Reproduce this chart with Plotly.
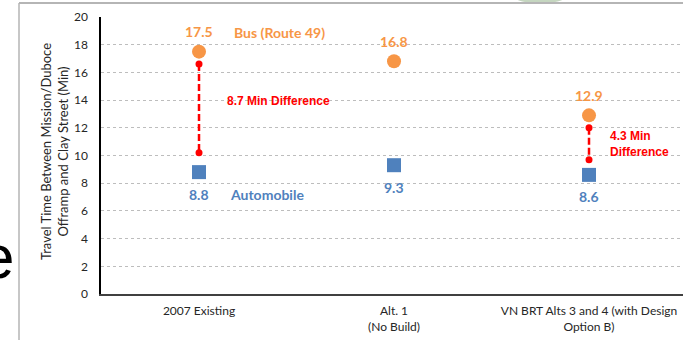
import plotly.graph_objects as go

# Scenarios on the x axis
categories = [0, 1, 2]
category_labels = [
    "2007 Existing",
    "Alt. 1<br>(No Build)",
    "VN BRT Alts 3 and 4 (with Design<br>Option B)",
]

# Travel times (minutes)
bus_times = [17.5, 16.8, 12.9]
auto_times = [8.8, 9.3, 8.6]

# Difference brackets: x position, top and bottom ends
diff_x = [0, 2]
diff_top = [16.6, 12.0]
diff_bottom = [10.2, 9.7]

y_ticks = [0, 2, 4, 6, 8, 10, 12, 14, 16, 18, 20]

ORANGE = "#F79646"
BLUE = "#4F81BD"
RED = "#FF0000"
FONT = "Lato"

W, H = 683, 340
L, R, T, B = 101, 0, 17, 46
PW, PH = W - L - R, H - T - B


def px(xp):
    return (xp - L) / PW


def py(yp):
    return (H - B - yp) / PH


fig = go.Figure()

# red dashed difference brackets with dot ends
for xd, top, bot in zip(diff_x, diff_top, diff_bottom):
    fig.add_trace(go.Scatter(
        x=[xd, xd], y=[top, bot], mode="lines+markers",
        line=dict(color=RED, width=2.5, dash="7px,3px"),
        marker=dict(color=RED, size=7),
        showlegend=False, hoverinfo="skip",
    ))

fig.add_trace(go.Scatter(
    x=categories, y=bus_times, mode="markers", name="Bus (Route 49)",
    marker=dict(color=ORANGE, size=14, symbol="circle"),
    showlegend=False,
))
fig.add_trace(go.Scatter(
    x=categories, y=auto_times, mode="markers", name="Automobile",
    marker=dict(color=BLUE, size=14, symbol="square"),
    showlegend=False,
))

annotations = []
# value labels
for xc, v in zip(categories, bus_times):
    annotations.append(dict(
        x=xc, y=v, xref="x", yref="y", text=f"<b>{v}</b>", showarrow=False,
        yanchor="middle", yshift=20,
        font=dict(family=FONT, size=14, color=ORANGE),
    ))
for xc, v in zip(categories, auto_times):
    annotations.append(dict(
        x=xc, y=v, xref="x", yref="y", text=f"<b>{v}</b>", showarrow=False,
        yanchor="middle", yshift=-22,
        font=dict(family=FONT, size=14, color=BLUE),
    ))

# series names
annotations.append(dict(
    x=px(232), y=py(32), xref="paper", yref="paper", xanchor="left",
    yanchor="middle", text="<b>Bus (Route 49)</b>", showarrow=False,
    font=dict(family=FONT, size=14, color=ORANGE),
))
annotations.append(dict(
    x=px(228), y=py(194), xref="paper", yref="paper", xanchor="left",
    yanchor="middle", text="<b>Automobile</b>", showarrow=False,
    font=dict(family=FONT, size=14, color=BLUE),
))

# difference notes
annotations.append(dict(
    x=px(225), y=py(101), xref="paper", yref="paper", xanchor="left",
    yanchor="middle", text="<b>8.7 Min Difference</b>", showarrow=False,
    font=dict(family="Liberation Sans", size=12, color=RED),
))
annotations.append(dict(
    x=px(608), y=py(144), xref="paper", yref="paper", xanchor="left",
    yanchor="middle", align="left", text="<b>4.3 Min<br>Difference</b>",
    showarrow=False,
    font=dict(family="Liberation Sans", size=12, color=RED),
))

# y axis title (two lines)
annotations.append(dict(
    x=px(54), y=py(152), xref="paper", yref="paper",
    xanchor="center", yanchor="middle",
    text="Travel Time Between Mission/Duboce<br>Offramp and Clay Street (Min)",
    textangle=-90, showarrow=False,
    font=dict(family=FONT, size=13, color="#262626"),
))

# large slide letter at left edge
annotations.append(dict(
    x=px(16), y=py(256), xref="paper", yref="paper", xanchor="right",
    yanchor="middle", text="e", showarrow=False,
    font=dict(family="Liberation Sans", size=62, color="#000000"),
))

shapes = [
    # chart frame
    dict(type="line", xref="paper", yref="paper", x0=px(19), x1=px(700),
         y0=py(3), y1=py(3), line=dict(color="#B5B5B5", width=2)),
    dict(type="line", xref="paper", yref="paper", x0=px(19), x1=px(19),
         y0=py(3), y1=py(345), line=dict(color="#B5B5B5", width=1.5)),
    # faint green blob at the top edge
    dict(type="circle", xref="paper", yref="paper", x0=px(515), x1=px(565),
         y0=py(3), y1=py(-8), fillcolor="rgba(150,180,140,0.55)",
         line=dict(width=0), layer="below"),
]

fig.update_layout(
    width=W, height=H,
    margin=dict(l=L, r=R, t=T, b=B, pad=0),
    paper_bgcolor="white", plot_bgcolor="white",
    annotations=annotations, shapes=shapes,
    showlegend=False,
    xaxis=dict(
        range=[-0.5026, 2.482], tickvals=categories, ticktext=category_labels,
        showgrid=False, zeroline=False, showline=True, linecolor="#404040",
        linewidth=2, ticks="", ticklabelstandoff=5,
        tickfont=dict(family=FONT, size=12, color="#262626"),
    ),
    yaxis=dict(
        range=[0, 20], tickvals=y_ticks, showgrid=True, gridcolor="#BDBDBD",
        griddash="dot", gridwidth=1, zeroline=False, showline=True,
        linecolor="#000000", linewidth=1.5, ticks="", ticklabelstandoff=9,
        tickfont=dict(family=FONT, size=12, color="#262626"),
    ),
)

fig.write_html("out.html")
